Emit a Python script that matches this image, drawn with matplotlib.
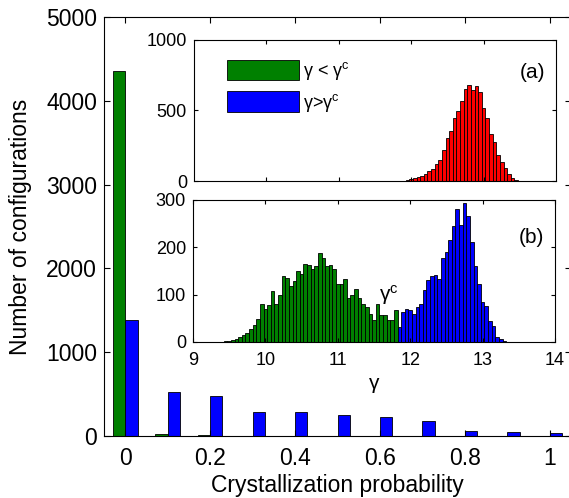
import numpy as np
import matplotlib
matplotlib.use("Agg")
import matplotlib.pyplot as plt
from matplotlib.patches import Patch

# main histogram: crystallization probability
prob = [0.0, 0.1, 0.2, 0.3, 0.4, 0.5, 0.6, 0.7, 0.8, 0.9, 1.0]
green_counts = [4350, 24, 9, 5, 3, 2, 1, 1, 0, 0, 0]
blue_counts = [1390, 525, 477, 290, 283, 254, 227, 179, 63, 51, 36]

# inset (a): all configurations vs gamma
red_centers = [11.85, 11.90, 11.95, 12.00, 12.05, 12.10, 12.15, 12.20, 12.25, 12.30,
               12.35, 12.40, 12.45, 12.50, 12.55, 12.60, 12.65, 12.70, 12.75, 12.80,
               12.85, 12.90, 12.95, 13.00, 13.05, 13.10, 13.15, 13.20, 13.25, 13.30,
               13.35, 13.40, 13.45, 13.50]
red_counts = [1, 2, 5, 12, 20, 28, 33, 50, 70, 86,
              118, 149, 220, 303, 355, 444, 496, 567, 652, 681,
              645, 676, 634, 520, 449, 333, 279, 184, 132, 90,
              47, 24, 9, 3]

# inset (b): split at gamma^c
green_centers = [9.45, 9.50, 9.55, 9.60, 9.65, 9.70, 9.75, 9.80, 9.85, 9.90,
                 9.95, 10.00, 10.05, 10.10, 10.15, 10.20, 10.25, 10.30, 10.35, 10.40,
                 10.45, 10.50, 10.55, 10.60, 10.65, 10.70, 10.75, 10.80, 10.85, 10.90,
                 10.95, 11.00, 11.05, 11.10, 11.15, 11.20, 11.25, 11.30, 11.35, 11.40,
                 11.45, 11.50, 11.55, 11.60, 11.65, 11.70, 11.75, 11.80]
green_hist = [2, 3, 4, 7, 11, 14, 18, 27, 35, 48,
              80, 69, 78, 107, 80, 99, 139, 136, 118, 128,
              151, 144, 164, 162, 155, 160, 187, 178, 161, 162,
              155, 122, 123, 134, 94, 100, 113, 94, 81, 73,
              60, 46, 80, 56, 56, 46, 46, 67]
blue_centers = [11.85, 11.90, 11.95, 12.00, 12.05, 12.10, 12.15, 12.20, 12.25, 12.30,
                12.35, 12.40, 12.45, 12.50, 12.55, 12.60, 12.65, 12.70, 12.75, 12.80,
                12.85, 12.90, 12.95, 13.00, 13.05, 13.10, 13.15, 13.20, 13.25, 13.30]
blue_hist = [32, 63, 70, 67, 60, 75, 81, 109, 132, 139,
             142, 134, 177, 190, 215, 246, 280, 248, 294, 266,
             212, 160, 123, 85, 77, 44, 33, 11, 6, 2]

GREEN = '#008000'
BLUE = '#0000FF'
RED = '#FF0000'

plt.rcParams.update({
    'font.family': ['Liberation Sans', 'DejaVu Sans'],
    'mathtext.fontset': 'custom',
    'mathtext.rm': 'Liberation Sans',
    'mathtext.it': 'Liberation Sans',
    'mathtext.default': 'regular',
    'xtick.direction': 'in',
    'ytick.direction': 'in',
    'xtick.top': True,
    'ytick.right': True,
    'axes.linewidth': 0.8,
})

fig = plt.figure(figsize=(5.69, 4.98), dpi=100)

# main axes
ax = fig.add_axes([104 / 569, 62 / 498, 467 / 569, 419 / 498])
bw = 0.029
ax.bar(np.array(prob) - bw / 2, green_counts, width=bw, color=GREEN,
       edgecolor='black', linewidth=0.6)
ax.bar(np.array(prob) + bw / 2, blue_counts, width=bw, color=BLUE,
       edgecolor='black', linewidth=0.6)
ax.set_xlim(-0.05, 1.05)
ax.set_ylim(0, 5000)
ax.set_xticks([0, 0.2, 0.4, 0.6, 0.8, 1.0])
ax.set_xticklabels(['0', '0.2', '0.4', '0.6', '0.8', '1'])
ax.set_yticks([0, 1000, 2000, 3000, 4000, 5000])
ax.tick_params(labelsize=16.5, length=4, width=0.8)
ax.tick_params(axis='x', pad=8)
ax.tick_params(axis='y', pad=5)
ax.set_xlabel('Crystallization probability', fontsize=16.5, labelpad=3)
ax.set_ylabel('Number of configurations', fontsize=16.5, labelpad=10)

# inset (a)
axa = fig.add_axes([194 / 569, (498 - 181) / 498, 362 / 569, 141 / 498])
axa.bar(red_centers, red_counts, width=0.05, color=RED, edgecolor='black', linewidth=0.6)
axa.set_xlim(9, 14)
axa.set_ylim(0, 1000)
axa.set_xticks([10, 11, 12, 13])
axa.set_xticklabels([])
axa.set_yticks([0, 500, 1000])
axa.tick_params(labelsize=13, length=3, width=0.8)
axa.tick_params(axis='y', pad=5)
axa.text(0.934, 0.773, '(a)', transform=axa.transAxes, fontsize=15,
         ha='center', va='center')
handles = [Patch(facecolor=GREEN, edgecolor='black', linewidth=0.6),
           Patch(facecolor=BLUE, edgecolor='black', linewidth=0.6)]
axa.legend(handles, [r'$\gamma$ < $\gamma^c$', r'$\gamma$>$\gamma^c$'],
           loc='upper left', bbox_to_anchor=(0.092, 0.86), frameon=False,
           fontsize=13, handlelength=3.98, handleheight=1.39,
           handletextpad=0.2, labelspacing=0.5, borderpad=0, borderaxespad=0)

# inset (b)
axb = fig.add_axes([193 / 569, (498 - 342) / 498, 362 / 569, 142 / 498])
axb.bar(green_centers, green_hist, width=0.05, color=GREEN, edgecolor='black', linewidth=0.6)
axb.bar(blue_centers, blue_hist, width=0.05, color=BLUE, edgecolor='black', linewidth=0.6)
axb.set_xlim(9, 14)
axb.set_ylim(0, 300)
axb.set_xticks([9, 10, 11, 12, 13, 14])
axb.set_yticks([0, 100, 200, 300])
axb.tick_params(labelsize=13, length=3, width=0.8)
axb.tick_params(axis='x', pad=7)
axb.tick_params(axis='y', pad=5)
axb.set_xlabel(r'$\gamma$', fontsize=15, labelpad=5)
axb.text(0.934, 0.737, '(b)', transform=axb.transAxes, fontsize=15,
         ha='center', va='center')
axb.text(11.70, 100, r'$\gamma^c$', fontsize=15, ha='center', va='center')

fig.savefig('out.png', dpi=100)
